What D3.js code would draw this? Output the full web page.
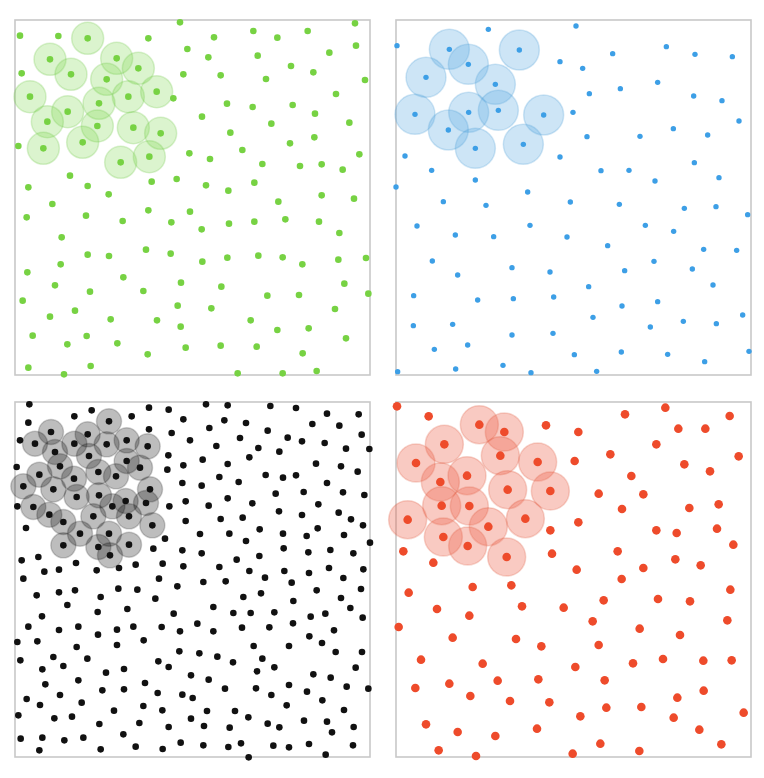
<!DOCTYPE html>
<html>
<head>
    <title>Poisson disc samples</title>
    <script src="https://cdn.jsdelivr.net/npm/d3@7"></script>
    <style>
        body { margin: 0; background: #fff; }
    </style>
    <script>
        // all points are in sample-grid coordinates, the square runs 15..1080 on both axes
        var grid = [15, 1080];

        var greenHalo = [[233,70],[120,133],[320,130],[183,178],[385,160],[290,193],[60,245],[355,245],[440,230],
            [267,265],[173,290],[112,320],[262,333],[370,338],[452,355],[218,382],[100,400],[332,442],[418,425]];
        var greenPoints = [[510,22],[1035,25],[30,62],[145,63],[415,70],[612,67],[730,48],[802,68],[893,48],[1038,92],
            [532,102],[595,127],[743,122],[958,113],[35,175],[520,178],[632,181],[768,192],[843,153],[910,172],[1065,195],
            [490,250],[651,266],[728,276],[848,270],[978,237],[915,296],[576,305],[1018,323],
            [784,326],[661,353],[913,367],[840,385],[25,393],[697,405],
            [538,415],[600,432],[757,447],[870,453],[935,448],[998,464],[1048,418],[180,482],[425,500],[500,492],[55,517],[233,513],[588,511],[655,527],[733,503],
            [296,538],[935,541],[1032,551],[127,567],[805,560],[50,607],[228,602],[415,586],[540,590],[338,618],[484,622],[657,626],[733,620],[826,613],[927,620],
            [575,643],[988,654],[155,667],
            [233,719],[297,723],[408,704],[482,716],[577,740],[652,728],[745,722],[818,727],[877,748],[985,734],[1068,729],[152,748],[52,772],
            [340,787],[513,803],[135,811],[240,830],[400,828],[634,815],[1003,806],[772,842],[867,840],[1075,836],[38,857],
            [503,872],[604,880],[195,887],[975,882],[120,905],[302,913],[441,916],[722,916],[512,935],[802,945],[896,940],
            [68,962],[230,963],[1008,970],[172,988],[322,985],[527,998],[632,992],[740,995],[878,1015],[413,1018],[55,1058],[242,1053],[162,1078],[683,1075],[818,1075],[920,1068]];

        var blueHalo = [[175,103],[385,105],[232,148],[105,187],[313,208],[72,298],[233,292],[322,286],[458,300],[172,345],[253,400],[397,388]];
        var bluePoints = [[18,92],[292,43],[555,33],[507,140],[575,160],[665,116],[826,95],[912,118],[1024,125],
            [595,236],[688,221],[800,202],[908,243],[993,257],[546,292],[1044,318],
            [588,365],[747,364],[847,341],[950,360],[42,423],[507,426],[910,443],
            [122,466],[630,467],[714,466],[792,498],[984,488],[15,516],[253,495],[410,531],
            [157,560],[285,571],[538,561],[685,568],[880,580],[975,575],[1070,599],
            [78,633],[193,660],[308,665],[417,631],[528,666],[763,631],[848,649],[650,692],
            [938,703],[1037,706],[124,738],[200,780],[363,758],[477,771],[701,767],[789,739],[904,762],
            [593,815],[966,810],[68,842],[260,855],[367,851],[488,846],[693,873],[800,860],
            [1055,900],[606,907],[877,919],[976,926],[67,932],[185,928],[363,960],[486,955],[778,936],
            [130,1003],[230,990],[550,1019],[691,1011],[830,1018],[1074,1009],[941,1040],[336,1051],[20,1070],[194,1062],[420,1073],[617,1069]];

        var blackHalo = [[297,73],[123,105],[233,112],[75,140],[193,140],[290,142],[350,130],[413,148],[135,165],[237,177],
            [350,192],[390,212],[150,208],[88,233],[192,245],[265,225],[318,238],[40,268],[130,277],[200,300],[267,295],
            [420,277],[70,330],[307,328],[347,312],[408,318],[118,353],[250,358],[357,358],[160,375],[427,385],[210,410],
            [297,410],[160,445],[265,450],[357,443],[300,475]];
        var blackPoints = [[58,22],[245,40],[417,32],[476,38],[55,77],[193,58],[365,58],[520,67],
            [417,97],[485,108],[30,130],[540,130],[475,175],[20,210],[472,218],[520,205],
            [517,258],[527,313],[22,328],[478,328],[527,372],[48,393],[465,425],[430,455],[517,460],
            [35,490],[85,480],[198,498],[377,503],[458,500],[520,508],[103,524],[147,518],[260,520],[327,513],[40,545],[447,545],
            [588,22],[653,25],[781,27],[858,33],[951,50],[1046,52],
            [643,70],[708,78],[598,93],[773,101],[907,81],[988,86],[1055,113],
            [690,123],[833,122],[876,133],[619,147],[745,153],[944,138],[1008,155],[1078,156],
            [578,188],[653,201],[718,181],[808,164],[918,200],[993,208],[1043,224],
            [628,240],[686,255],[767,234],[819,242],[858,235],[951,258],
            [575,266],[797,290],[881,285],[999,286],[1063,294],
            [653,304],[596,326],[727,319],[925,322],[807,343],[876,354],[986,347],[1023,367],
            [632,366],[698,362],[749,397],[923,394],[1059,385],[570,411],[658,410],[819,410],[890,417],[1002,414],
            [708,432],[1080,437],
            [575,469],[680,488],[748,477],[821,454],[895,466],[961,459],[1030,469],
            [628,510],[718,522],[823,522],[897,528],[957,513],[1060,517],
            [80,595],[147,586],[195,580],[272,600],[325,575],[382,578],[436,605],[502,568],
            [172,624],[263,645],[352,636],[96,658],[491,650],
            [55,689],[147,699],[205,689],[264,713],[321,698],[370,689],[455,690],[510,703],
            [22,735],[82,733],[200,750],[321,744],[401,730],[508,763],
            [31,790],[130,780],[232,785],[160,807],[97,817],[445,793],[476,810],
            [288,827],[342,816],
            [106,862],[205,850],[405,858],[150,894],[277,880],[342,877],[443,888],[517,893],
            [50,906],[90,924],[215,917],[400,927],[312,941],[457,940],
            [25,955],[133,964],[186,959],[268,981],[388,978],
            [476,990],[340,1012],
            [32,1025],[97,1022],[163,1030],[220,1022],[512,1037],[88,1060],[272,1057],[377,1049],[458,1056],
            [580,555],[647,553],[765,542],[845,557],[1000,543],
            [920,580],[1053,576],[700,600],[753,589],[850,612],[993,603],[1021,633],[610,630],
            [670,648],[722,648],[793,646],[902,659],[946,650],[1058,662],
            [562,680],[610,703],[696,692],[778,691],[849,679],[972,700],[898,718],[936,738],
            [731,747],[837,747],[977,765],[1056,765],
            [568,769],[622,779],[669,796],[757,785],[793,811],[741,823],[1037,812],
            [543,835],[596,848],[910,832],[962,842],[645,875],[738,874],[837,864],[784,894],[891,884],[1010,869],[1075,875],
            [548,903],[937,910],[830,925],[1002,939],[591,942],[675,942],[715,961],
            [543,965],[582,987],[659,992],[773,980],[808,991],[882,971],[951,974],[966,1006],[1031,990],
            [580,1045],[655,1050],[693,1039],[790,1046],[837,1051],[897,1041],[1029,1045],[716,1081],[947,1073]];

        var redHalo = [[265,83],[340,105],[160,142],[328,176],[75,198],[440,195],[148,255],[228,236],[350,278],
            [478,282],[152,326],[235,327],[50,368],[403,365],[292,389],[157,420],[230,447],[347,480]];
        var redPoints = [[18,28],[113,58],[465,85],[562,105],[702,52],[823,32],[1016,57],[862,95],[943,95],
            [551,192],[658,172],[796,142],[880,202],[1043,178],[957,223],[721,237],
            [623,290],[757,292],[693,336],[895,333],[983,322],[562,376],[478,400],[796,400],[857,408],[978,395],[1027,443],
            [37,463],[127,497],[483,470],[680,463],[853,487],[929,505],[557,518],[757,513],[692,546],
            [53,587],[245,570],[361,565],[1018,578],[138,636],[235,656],[393,628],[518,632],[638,610],[801,606],[897,613],
            [23,690],[605,673],[746,695],[1009,670],[185,722],[375,726],[451,748],[623,744],[867,714],
            [90,788],[275,800],[553,810],[726,799],[816,786],[937,791],[1022,790],
            [73,873],[175,860],[320,851],[442,847],[641,850],[238,897],[357,912],[475,916],[646,932],[751,930],[859,902],[938,881],
            [568,958],[848,962],[1058,947],[105,982],[200,1005],[313,1017],[438,995],[628,1040],[925,998],[143,1060],[255,1077],[545,1070],[745,1062],[991,1042]];

        window.addEventListener("load", drawPanels);

        function drawPanels() {
            var size = 355;

            var x = d3.scaleLinear().domain(grid).range([0, size]);
            var y = d3.scaleLinear().domain(grid).range([0, size]);

            var svg = d3.select("#drawingPlace");

            var panels = [
                {left: 15,  top: 20,  pts: greenPoints, halo: greenHalo, dot: "#77d243", haloFill: "rgba(126,214,80,0.28)", haloStroke: "rgba(110,200,70,0.25)", r: 3.3, hr: 16},
                {left: 396, top: 20,  pts: bluePoints,  halo: blueHalo,  dot: "#3d9fe6", haloFill: "rgba(90,170,225,0.3)",  haloStroke: "rgba(80,160,215,0.25)", r: 2.7, hr: 20},
                {left: 15,  top: 402, pts: blackPoints, halo: blackHalo, dot: "#111",    haloFill: "rgba(0,0,0,0.26)",      haloStroke: "rgba(0,0,0,0.18)",      r: 3.3, hr: 12.5},
                {left: 396, top: 402, pts: redPoints,   halo: redHalo,   dot: "#ee4b2b", haloFill: "rgba(238,95,70,0.33)",  haloStroke: "rgba(225,90,65,0.25)",  r: 4.3, hr: 19}
            ];

            panels.forEach(function (p) {
                var g = svg.append("g")
                    .attr("transform", "translate(" + p.left + "," + p.top + ")");

                g.append("rect")
                    .attr("width", size)
                    .attr("height", size)
                    .attr("fill", "none")
                    .attr("stroke", "#c8c8c8")
                    .attr("stroke-width", 1.6);

                // halos round the first samples
                g.selectAll("circle.halo")
                    .data(p.halo)
                    .enter()
                    .append("circle")
                    .attr("class", "halo")
                    .attr("cx", d => x(d[0]))
                    .attr("cy", d => y(d[1]))
                    .attr("r", p.hr)
                    .attr("fill", p.haloFill)
                    .attr("stroke", p.haloStroke)
                    .attr("stroke-width", 1.5);

                g.selectAll("circle.dot")
                    .data(p.halo.concat(p.pts))
                    .enter()
                    .append("circle")
                    .attr("class", "dot")
                    .attr("cx", d => x(d[0]))
                    .attr("cy", d => y(d[1]))
                    .attr("r", p.r)
                    .attr("fill", p.dot);
            });
        }
    </script>
</head>
<body>
    <svg id="drawingPlace" width="764" height="778"></svg>
</body>
</html>
